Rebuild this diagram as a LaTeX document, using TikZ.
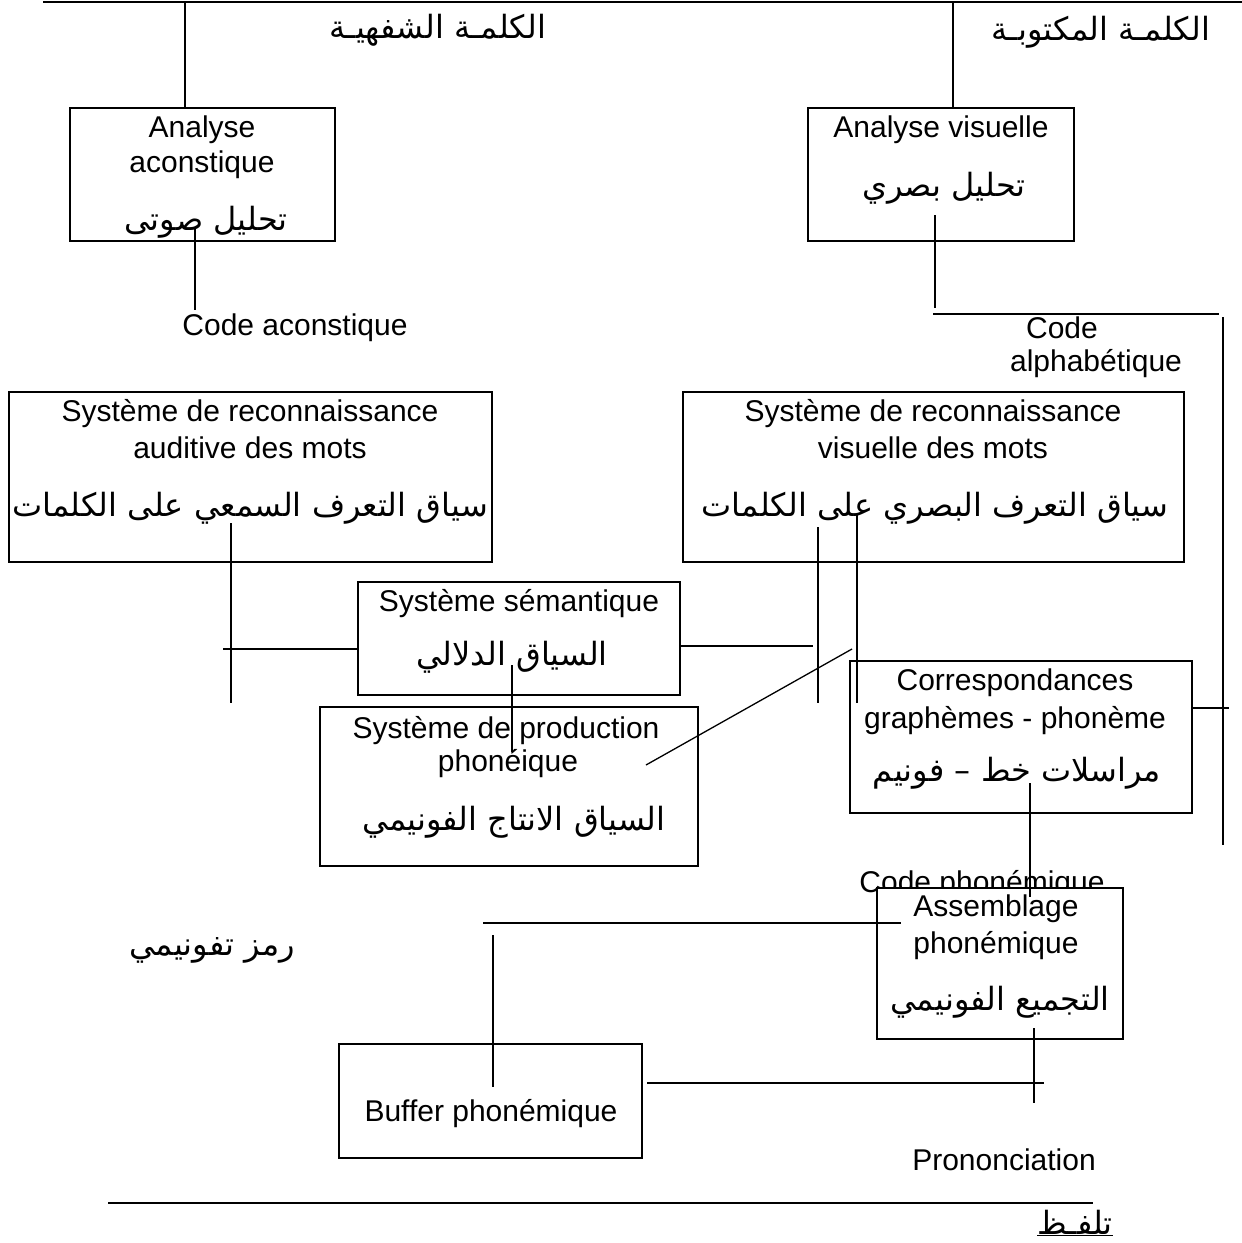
\documentclass[tikz,border=0pt]{standalone}
\usepackage{fontspec}
\setmainfont{Liberation Sans}
\newfontfamily\arfont[Script=Arabic]{DejaVu Sans}
\TeXXeTstate=1
\begin{document}
\begin{tikzpicture}[x=1pt,y=-1pt,
  box/.style={draw, line width=1.6pt, fill=white, inner sep=0pt, outer sep=0pt},
  latin/.style={font=\fontsize{30}{36}\selectfont, inner sep=0pt, text height=21pt, text depth=6pt},
  arab/.style={font=\arfont\fontsize{32}{38}\selectfont, inner sep=0pt},
  ln/.style={line width=1.3pt}]
\useasboundingbox (0,0) rectangle (1242,1243);

% free-standing titles
\node[arab] (t1) at (438,30) {\beginR الكلمـة الشفهيـة\endR};
\node[arab] (t2) at (1101,32) {\beginR الكلمـة المكتوبـة\endR};
\node[latin] (codeph) at (982,885) {Code phonémique};

% boxes
\node[box, minimum width=265, minimum height=133] (aa) at (202.5,174.5) {};
\node[box, minimum width=266, minimum height=133] (av) at (941,174.5) {};
\node[box, minimum width=483, minimum height=170] (sra) at (250.5,477) {};
\node[box, minimum width=501, minimum height=170] (srv) at (933.5,477) {};
\node[box, minimum width=322, minimum height=113] (sem) at (519,638.5) {};
\node[box, minimum width=378, minimum height=159] (prod) at (509,786.5) {};
\node[box, minimum width=342, minimum height=152] (cgp) at (1021,737) {};
\node[box, minimum width=246, minimum height=151] (asm) at (1000,963.5) {};
\node[box, minimum width=303, minimum height=114] (buf) at (490.5,1101) {};

% texts in boxes
\node[latin] (aa1) at (202,130) {Analyse};
\node[latin] (aa2) at (202,165) {aconstique};
\node[arab] (aa3) at (206,222) {\beginR تحليل صوتى\endR};
\node[latin] (av1) at (941,130) {Analyse visuelle};
\node[arab] (av2) at (944,188) {\beginR تحليل بصري\endR};
\node[latin] (sra1) at (250,414) {Système de reconnaissance};
\node[latin] (sra2) at (250,451) {auditive des mots};
\node[arab] (sra3) at (250,508) {\beginR سياق التعرف السمعي على الكلمات\endR};
\node[latin] (srv1) at (933,414) {Système de reconnaissance};
\node[latin] (srv2) at (933,451) {visuelle des mots};
\node[arab] (srv3) at (935,508) {\beginR سياق التعرف البصري على الكلمات\endR};
\node[latin] (sem1) at (519,604) {Système sémantique};
\node[arab] (sem2) at (512,657) {\beginR السياق الدلالي\endR};
\node[latin] (prod1) at (506,731) {Système de production};
\node[latin] (prod2) at (508,764) {phonéique};
\node[arab] (prod3) at (514,822) {\beginR السياق الانتاج الفونيمي\endR};
\node[latin] (cgp1) at (1015,683) {Correspondances};
\node[latin] (cgp2) at (1015,721) {graphèmes - phonème};
\node[arab] (cgp3) at (1017,773) {\beginR مراسلات خط – فونيم\endR};
\node[latin] (asm1) at (996,909) {Assemblage};
\node[latin] (asm2) at (996,946) {phonémique};
\node[arab] (asm3) at (1000,1002) {\beginR التجميع الفونيمي\endR};
\node[latin] (buf1) at (491,1114) {Buffer phonémique};

% free labels
\node[latin] (codeac) at (295,328) {Code aconstique};
\node[latin] (codeal1) at (1062,331) {Code};
\node[latin] (codeal2) at (1096,364) {alphabétique};
\node[arab] (ramz) at (212,950) {\beginR رمز تفونيمي\endR};
\node[latin] (pron) at (1004,1163) {Prononciation};
\node[arab] (talaf) at (1075,1223) {\underline{\beginR تلفـظ\endR}};

% coordinates
\coordinate (tl) at (43,2);
\coordinate (tr) at (1242,2);
\coordinate (bl) at (108,1203);
\coordinate (br) at (1093,1203);

% connectors
\draw[ln] (tl) -- (tr);
\draw[ln] (185,2) -- (aa.north -| 185,0);
\draw[ln] (953,2) -- (av.north -| 953,0);
\draw[ln] (195,228) -- (195,310);
\draw[ln] (935,215) -- (935,308);
\draw[ln] (933,314) -- (1219,314);
\draw[ln] (1223,317) -- (1223,845);
\draw[ln] (231,523) -- (231,703);
\draw[ln] (223,649) -- (sem.west |- 0,649);
\draw[ln] (sem.east |- 0,646) -- (813,646);
\draw[ln] (818,527) -- (818,703);
\draw[ln] (857,515) -- (857,703);
\draw[ln] (852,649) -- (646,765);
\draw[ln] (512,665) -- (512,752);
\draw[ln] (cgp.east |- 0,708) -- (1229,708);
\draw[ln] (1030,783) -- (1030,897);
\draw[ln] (483,923) -- (901,923);
\draw[ln] (493,935) -- (493,1087);
\draw[ln] (647,1083) -- (1044,1083);
\draw[ln] (1034,1028) -- (1034,1103);
\draw[ln] (bl) -- (br);
\end{tikzpicture}
\end{document}
